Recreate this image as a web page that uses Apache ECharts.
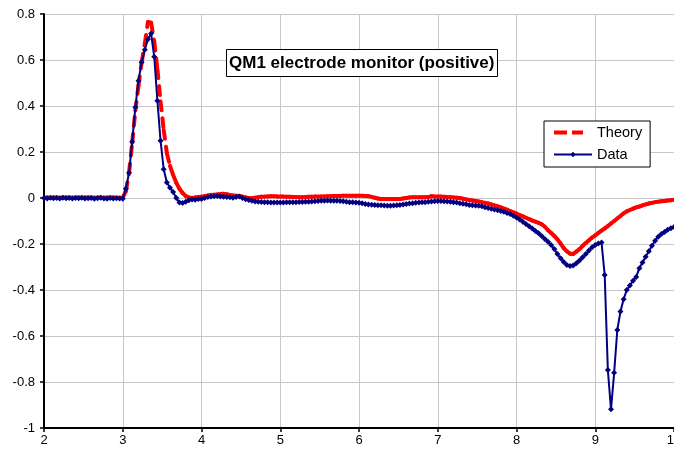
<!DOCTYPE html>
<html>
<head>
<meta charset="utf-8">
<script src="https://cdn.jsdelivr.net/npm/echarts@6/dist/echarts.min.js"></script>
<style>
  html, body { margin: 0; padding: 0; background: #fff; }
  #chart { width: 674px; height: 449px; }
</style>
</head>
<body>
<div id="chart"></div>
<script>
// Sample time base (µs) shared by both traces
const sampleStart = 2.0;
const sampleStep = 0.04;

// Axis ticks
const xTicks = [2, 3, 4, 5, 6, 7, 8, 9, 10];
const yTicks = [-1, -0.8, -0.6, -0.4, -0.2, 0, 0.2, 0.4, 0.6, 0.8];

const seriesNames = ['Theory', 'Data'];
const chartTitle = 'QM1 electrode monitor (positive)';

// Measured electrode signal
const dataY = [
  // 2.00 – 2.96
  0.000, -0.002, 0.001, -0.001, 0.000, -0.002, 0.001, -0.001, 0.000, -0.002, 0.000, -0.001, 0.001, -0.002, -0.001, 0.000, -0.003, -0.001, 0.001, -0.002, -0.003, 0.000, -0.002, -0.001, -0.002,
  // 3.00 – 3.96
  -0.003, 0.040, 0.110, 0.245, 0.395, 0.510, 0.590, 0.645, 0.690, 0.715, 0.614, 0.423, 0.249, 0.125, 0.067, 0.045, 0.026, 0.000, -0.020, -0.022, -0.016, -0.010, -0.006, -0.008, -0.004,
  // 4.00 – 4.96
  -0.004, 0.000, 0.004, 0.006, 0.008, 0.009, 0.007, 0.005, 0.004, 0.003, 0.001, 0.004, 0.006, 0.000, -0.005, -0.009, -0.012, -0.015, -0.016, -0.017, -0.018, -0.019, -0.020, -0.020, -0.020,
  // 5.00 – 5.96
  -0.020, -0.020, -0.019, -0.019, -0.018, -0.018, -0.017, -0.017, -0.016, -0.016, -0.015, -0.014, -0.013, -0.012, -0.012, -0.011, -0.012, -0.012, -0.012, -0.013, -0.014, -0.016, -0.018, -0.019, -0.020,
  // 6.00 – 6.96
  -0.021, -0.023, -0.026, -0.028, -0.029, -0.030, -0.031, -0.032, -0.033, -0.034, -0.034, -0.033, -0.031, -0.030, -0.028, -0.026, -0.024, -0.023, -0.021, -0.020, -0.019, -0.018, -0.016, -0.015, -0.014,
  // 7.00 – 7.96
  -0.013, -0.013, -0.014, -0.015, -0.016, -0.018, -0.020, -0.023, -0.025, -0.027, -0.030, -0.031, -0.033, -0.034, -0.036, -0.040, -0.043, -0.047, -0.050, -0.053, -0.056, -0.060, -0.065, -0.070, -0.077,
  // 8.00 – 8.96
  -0.085, -0.093, -0.103, -0.113, -0.123, -0.133, -0.143, -0.153, -0.165, -0.178, -0.190, -0.204, -0.222, -0.244, -0.262, -0.278, -0.291, -0.296, -0.294, -0.284, -0.272, -0.258, -0.244, -0.228, -0.214,
  // 9.00 – 10.00
  -0.204, -0.198, -0.194, -0.335, -0.748, -0.919, -0.760, -0.574, -0.494, -0.440, -0.400, -0.380, -0.360, -0.343, -0.305, -0.280, -0.255, -0.232, -0.208, -0.186, -0.168, -0.157, -0.148, -0.138, -0.131, -0.126
];

// Simulated response
const theoryY = [
  // 2.00 – 2.96
  0.002, 0.002, 0.001, 0.002, 0.002, 0.001, 0.002, 0.002, 0.002, 0.001, 0.002, 0.002, 0.001, 0.002, 0.002, 0.002, 0.001, 0.002, 0.002, 0.001, 0.002, 0.002, 0.002, 0.001, 0.001,
  // 3.00 – 3.96
  0.001, 0.030, 0.110, 0.240, 0.380, 0.490, 0.590, 0.670, 0.765, 0.762, 0.680, 0.560, 0.420, 0.296, 0.195, 0.140, 0.100, 0.066, 0.040, 0.022, 0.008, 0.002, 0.000, 0.002, 0.004,
  // 4.00 – 4.96
  0.006, 0.008, 0.011, 0.013, 0.014, 0.015, 0.017, 0.018, 0.016, 0.013, 0.011, 0.010, 0.009, 0.006, 0.002, 0.000, -0.001, 0.001, 0.003, 0.005, 0.006, 0.007, 0.008, 0.008, 0.007,
  // 5.00 – 5.96
  0.006, 0.006, 0.005, 0.005, 0.004, 0.004, 0.003, 0.003, 0.004, 0.005, 0.005, 0.006, 0.006, 0.007, 0.007, 0.008, 0.008, 0.009, 0.009, 0.009, 0.010, 0.010, 0.010, 0.010, 0.010,
  // 6.00 – 6.96
  0.010, 0.010, 0.009, 0.008, 0.005, 0.001, -0.002, -0.004, -0.004, -0.004, -0.004, -0.004, -0.004, -0.004, -0.002, 0.000, 0.002, 0.003, 0.003, 0.003, 0.003, 0.003, 0.004, 0.008, 0.007,
  // 7.00 – 7.96
  0.006, 0.006, 0.005, 0.004, 0.003, 0.002, 0.001, 0.000, -0.003, -0.006, -0.009, -0.011, -0.013, -0.015, -0.018, -0.021, -0.024, -0.028, -0.032, -0.036, -0.041, -0.046, -0.051, -0.057, -0.062,
  // 8.00 – 8.96
  -0.068, -0.074, -0.080, -0.086, -0.092, -0.098, -0.103, -0.108, -0.114, -0.125, -0.140, -0.152, -0.165, -0.180, -0.198, -0.218, -0.232, -0.242, -0.243, -0.233, -0.222, -0.208, -0.196, -0.184, -0.172,
  // 9.00 – 10.00
  -0.162, -0.152, -0.142, -0.132, -0.122, -0.111, -0.100, -0.089, -0.078, -0.067, -0.058, -0.052, -0.046, -0.041, -0.037, -0.032, -0.028, -0.024, -0.021, -0.018, -0.016, -0.014, -0.013, -0.011, -0.010, -0.008
];

const sampleTime = i => +(sampleStart + i * sampleStep).toFixed(2);

const RED = '#ff0000';
const NAVY = '#000080';
const FONT = '"Liberation Sans", Arial, sans-serif';

const dataPoints = dataY.map((y, i) => [sampleTime(i), y]);

// Theory is drawn segment by segment so the dash pattern restarts on every
// sample step: short steps read as a solid stroke, steep steps as dashes.
const theorySegments = [];
for (let i = 0; i < theoryY.length - 1; i++) {
  theorySegments.push([sampleTime(i), theoryY[i], sampleTime(i + 1), theoryY[i + 1]]);
}

// Two-dash legend key for the theory trace (the last tiny box pins the width)
const theoryKeyIcon = 'path://M0,0h13v4h-13z M18,0h11v4h-11z M37.9,1.9h0.1v0.2h-0.1z';

const chart = echarts.init(document.getElementById('chart'), null, { renderer: 'canvas' });

chart.setOption({
  animation: false,
  backgroundColor: '#ffffff',
  title: {
    text: chartTitle,
    left: 226,
    top: 49,
    padding: [5, 3, 4, 3],
    borderColor: '#000',
    borderWidth: 1,
    backgroundColor: '#fff',
    textStyle: { fontFamily: FONT, fontSize: 17, fontWeight: 'bold', color: '#000', lineHeight: 19 }
  },
  legend: {
    data: [
      { name: seriesNames[0], icon: theoryKeyIcon, itemStyle: { color: RED } },
      { name: seriesNames[1] }
    ],
    orient: 'vertical',
    left: 544,
    top: 121,
    padding: [4, 8, 5, 9],
    itemWidth: 38,
    itemHeight: 7,
    itemGap: 7,
    borderColor: '#000',
    borderWidth: 1,
    borderRadius: 0,
    backgroundColor: '#fff',
    selectedMode: false,
    textStyle: { fontFamily: FONT, fontSize: 14.5, color: '#000', lineHeight: 14 }
  },
  grid: {
    left: 44,
    right: 0,
    top: 14,
    bottom: 21,
    containLabel: false,
    outerBoundsMode: 'none'
  },
  xAxis: {
    type: 'value',
    min: xTicks[0],
    max: xTicks[xTicks.length - 1],
    interval: 1,
    axisLine: { onZero: false, lineStyle: { color: '#000', width: 2 } },
    axisTick: { show: true, length: 4, lineStyle: { color: '#000', width: 1.5 } },
    axisLabel: { margin: 6, color: '#000', fontFamily: FONT, fontSize: 13 },
    splitLine: { show: true, lineStyle: { color: '#c8c8c8', width: 1 } }
  },
  yAxis: {
    type: 'value',
    min: yTicks[0],
    max: yTicks[yTicks.length - 1],
    interval: 0.2,
    axisLine: { show: true, onZero: false, lineStyle: { color: '#000', width: 2 } },
    axisTick: { show: true, length: 4, lineStyle: { color: '#000', width: 1.5 } },
    axisLabel: {
      margin: 9,
      color: '#000',
      fontFamily: FONT,
      fontSize: 13,
      formatter: v => String(+v.toFixed(1))
    },
    splitLine: { show: true, lineStyle: { color: '#c8c8c8', width: 1 } }
  },
  series: [
    {
      // Theory trace, drawn as per-sample dashed segments
      type: 'custom',
      name: 'theoryTrace',
      z: 2,
      clip: true,
      encode: { x: [0, 2], y: [1, 3] },
      data: theorySegments,
      renderItem: (params, api) => {
        const p0 = api.coord([api.value(0), api.value(1)]);
        const p1 = api.coord([api.value(2), api.value(3)]);
        return {
          type: 'line',
          shape: { x1: p0[0], y1: p0[1], x2: p1[0], y2: p1[1] },
          style: { stroke: RED, lineWidth: 4, lineDash: [9, 8], lineCap: 'round', fill: null }
        };
      }
    },
    {
      // Legend entry for the theory trace
      type: 'line',
      name: seriesNames[0],
      data: [],
      symbol: 'none',
      color: RED,
      lineStyle: { color: RED, width: 4 }
    },
    {
      type: 'line',
      name: seriesNames[1],
      z: 3,
      data: dataPoints,
      color: NAVY,
      symbol: 'diamond',
      symbolSize: 6,
      showSymbol: true,
      showAllSymbol: true,
      lineStyle: { color: NAVY, width: 2 },
      itemStyle: { color: NAVY }
    }
  ]
});
</script>
</body>
</html>
